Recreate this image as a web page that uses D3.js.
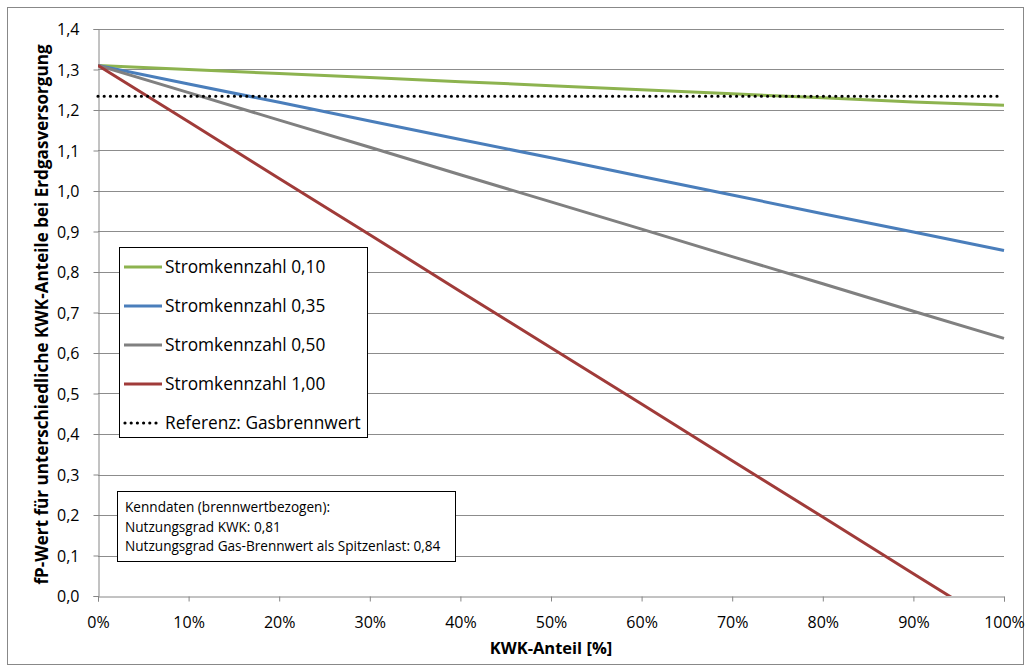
<!DOCTYPE html>
<html><head><meta charset="utf-8">
<script src="https://cdn.jsdelivr.net/npm/d3@7"></script>
<style>body{margin:0;background:#fff}svg{display:block}text{font-family:"Open Sans",Lato,sans-serif;fill:#000}</style>
</head><body>
<svg id="c" width="1031" height="672"></svg>
<script>
const xShares = [0,0.1,0.2,0.3,0.4,0.5,0.6,0.7,0.8,0.9,1.0];
const s010 = [1.31,1.30,1.29,1.28,1.27,1.26,1.25,1.24,1.23,1.22,1.212];
const s035 = [1.31,1.264,1.219,1.173,1.127,1.082,1.036,0.990,0.944,0.899,0.853];
const s050 = [1.31,1.243,1.175,1.108,1.040,0.973,0.906,0.838,0.771,0.703,0.636];
const s100 = [1.31,1.171,1.031,0.892,0.752,0.613,0.474,0.334,0.195,0.055,-0.084];
const refValue = 1.234;
const seriesNames = ["Stromkennzahl 0,10","Stromkennzahl 0,35","Stromkennzahl 0,50","Stromkennzahl 1,00"];
const refName = "Referenz: Gasbrennwert";
const yTicks = [0,0.1,0.2,0.3,0.4,0.5,0.6,0.7,0.8,0.9,1.0,1.1,1.2,1.3,1.4];
const xTicks = [0,0.1,0.2,0.3,0.4,0.5,0.6,0.7,0.8,0.9,1.0];
const noteLines = ["Kenndaten (brennwertbezogen):","Nutzungsgrad KWK: 0,81","Nutzungsgrad Gas-Brennwert als Spitzenlast: 0,84"];
const yTitle = "fP-Wert für unterschiedliche KWK-Anteile bei Erdgasversorgung";
const xTitle = "KWK-Anteil [%]";

const colors = ["#8db34f","#4a7ebb","#808080","#a03b39"];
const series = [s010,s035,s050,s100];

const svg = d3.select("#c");
svg.append("rect").attr("x",7.5).attr("y",7.5).attr("width",1016).attr("height",657)
  .attr("fill","#fff").attr("stroke","#888").attr("stroke-width",1);

const L=98, R=1004, T=29, B=596;
const x = d3.scaleLinear().domain([0,1]).range([L,R]);
const y = d3.scaleLinear().domain([0,1.4]).range([B,T]);

svg.append("g").selectAll("line").data(yTicks.filter(d=>d>0)).join("line")
  .attr("x1",L).attr("x2",R).attr("y1",d=>Math.round(y(d))+0.5).attr("y2",d=>Math.round(y(d))+0.5)
  .attr("stroke","#8c8c8c").attr("stroke-width",1);

const fmtY = d=>d3.format(".1f")(d).replace(".",",");
const fmtX = d=>Math.round(d*100)+"%";

const ya = svg.append("g").attr("transform",`translate(${L+0.5},0)`)
  .call(d3.axisLeft(y).tickValues(yTicks).tickFormat(fmtY).tickSize(5).tickPadding(14));
ya.select(".domain").attr("stroke","#868686");
ya.selectAll(".tick line").attr("stroke","#868686");
ya.selectAll(".tick text").attr("font-size",16).style("fill","#000").attr("dy","0.36em");

const xa = svg.append("g").attr("transform",`translate(0,${B+0.5})`)
  .call(d3.axisBottom(x).tickValues(xTicks).tickFormat(fmtX).tickSize(5).tickPadding(15));
xa.select(".domain").attr("stroke","#868686");
xa.selectAll(".tick line").attr("stroke","#868686");
xa.selectAll(".tick text").attr("font-size",16).style("fill","#000");

svg.append("clipPath").attr("id","pc").append("rect").attr("x",L).attr("y",T-5).attr("width",R-L+2).attr("height",B-T+5);

const line = d3.line().x((d,i)=>x(xShares[i])).y(d=>y(d));
const g = svg.append("g").attr("clip-path","url(#pc)");
series.forEach((s,i)=>{
  g.append("path").attr("d",line(s)).attr("fill","none").attr("stroke",colors[i]).attr("stroke-width",3);
});
svg.append("line").attr("x1",x(0)).attr("x2",x(1)-6).attr("y1",y(refValue)).attr("y2",y(refValue))
  .attr("stroke","#000").attr("stroke-width",3.2).attr("stroke-linecap","round").attr("stroke-dasharray","0 6.2");

const lg = svg.append("g");
lg.append("rect").attr("x",119.5).attr("y",247.5).attr("width",248).attr("height",190).attr("fill","#fff").attr("stroke","#000").attr("stroke-width",1);
const rowsY = [267,306,345,384,423];
series.forEach((s,i)=>{
  lg.append("line").attr("x1",124).attr("x2",162).attr("y1",rowsY[i]).attr("y2",rowsY[i]).attr("stroke",colors[i]).attr("stroke-width",3);
  lg.append("text").attr("x",165).attr("y",rowsY[i]+6).attr("font-size",17.3).text(seriesNames[i]);
});
lg.append("line").attr("x1",125).attr("x2",162).attr("y1",rowsY[4]).attr("y2",rowsY[4]).attr("stroke","#000")
  .attr("stroke-width",3.2).attr("stroke-linecap","round").attr("stroke-dasharray","0 6.2");
lg.append("text").attr("x",165).attr("y",rowsY[4]+6).attr("font-size",17.3).text(refName);

const nb = svg.append("g");
nb.append("rect").attr("x",117.5).attr("y",491.5).attr("width",338).attr("height",70).attr("fill","#fff").attr("stroke","#000").attr("stroke-width",1);
noteLines.forEach((t,i)=>nb.append("text").attr("x",125).attr("y",512+i*19.5).attr("font-size",13.6).text(t));

svg.append("text").attr("transform",`translate(48,${(T+B)/2 + 2}) rotate(-90)`).attr("text-anchor","middle")
  .attr("font-size",17.1).attr("font-weight","bold").text(yTitle);
svg.append("text").attr("x",(L+R)/2).attr("y",654).attr("text-anchor","middle")
  .attr("font-size",16.5).attr("font-weight","bold").text(xTitle);
</script>
</body></html>
